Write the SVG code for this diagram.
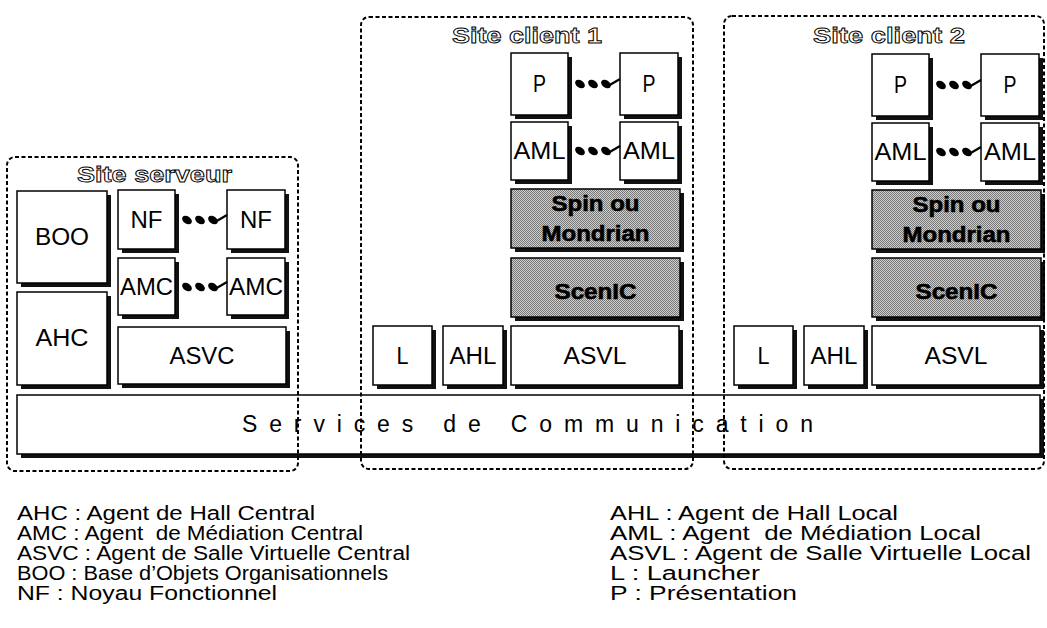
<svg xmlns="http://www.w3.org/2000/svg" width="1047" height="628" viewBox="0 0 1047 628">
<style>
.box{fill:#fff;stroke:#000;stroke-width:1.5}
.gray{fill:url(#dither);stroke:#000;stroke-width:1.5}
.sh{fill:#111}
.site{fill:none;stroke:#000;stroke-width:2;stroke-dasharray:4 2.5}
.n{font-family:"Liberation Sans",Arial,sans-serif;font-size:23px;text-anchor:middle;fill:#000}
.b{font-family:"Liberation Sans",Arial,sans-serif;font-size:22px;font-weight:bold;text-anchor:middle;fill:#000;stroke:#000;stroke-width:0.6}
.title{font-family:"Liberation Sans",Arial,sans-serif;font-size:22px;font-weight:bold;text-anchor:middle;fill:#fff;stroke:#000;stroke-width:0.9}
.comm{font-family:"Liberation Sans",Arial,sans-serif;font-size:23px;fill:#000}
.leg{font-family:"Liberation Sans",Arial,sans-serif;font-size:20px;fill:#000}
.dot{fill:#000}
</style>
<defs>
<pattern id="dither" width="2" height="2" patternUnits="userSpaceOnUse">
<rect width="2" height="2" fill="#cfcfcf"/>
<rect x="0" y="0" width="1" height="1" fill="#777"/>
<rect x="1" y="1" width="1" height="1" fill="#777"/>
</pattern>
<g id="dd">
<ellipse class="dot" cx="12" cy="0" rx="5.4" ry="3.6" transform="rotate(35 12 0)"/>
<ellipse class="dot" cx="25" cy="0" rx="5.4" ry="3.6" transform="rotate(35 25 0)"/>
<ellipse class="dot" cx="38" cy="0" rx="5.4" ry="3.6" transform="rotate(35 38 0)"/>
<path d="M40 2 L52 -5" stroke="#000" stroke-width="2.2" fill="none"/>
</g>
</defs>
<rect width="1047" height="628" fill="#fff"/>

<!-- Communication layer -->
<g id="comm">
<rect class="sh" x="21" y="399" width="1023" height="59"/>
<rect class="box" x="17" y="395" width="1023" height="59"/>
<text class="comm" x="242" y="432" textLength="571" lengthAdjust="spacing">Services de Communication</text>
</g>

<!-- Server site nodes -->
<g id="BOO"><rect class="sh" x="21" y="195" width="90" height="92"/><rect class="box" x="17" y="191" width="90" height="92"/><text class="n" x="62" y="245" textLength="54" lengthAdjust="spacingAndGlyphs">BOO</text></g>
<g id="AHC"><rect class="sh" x="21" y="296" width="90" height="93"/><rect class="box" x="17" y="292" width="90" height="93"/><text class="n" x="62" y="346" textLength="53" lengthAdjust="spacingAndGlyphs">AHC</text></g>
<g id="NF1"><rect class="sh" x="122" y="194" width="57" height="59"/><rect class="box" x="118" y="190" width="57" height="59"/><text class="n" x="146.5" y="228" textLength="32" lengthAdjust="spacingAndGlyphs">NF</text></g>
<g id="NF2"><rect class="sh" x="231" y="194" width="58" height="59"/><rect class="box" x="227" y="190" width="58" height="59"/><text class="n" x="256" y="228" textLength="32" lengthAdjust="spacingAndGlyphs">NF</text></g>
<g id="AMC1"><rect class="sh" x="122" y="262" width="57" height="57"/><rect class="box" x="118" y="258" width="57" height="57"/><text class="n" x="146.5" y="295" textLength="53" lengthAdjust="spacingAndGlyphs">AMC</text></g>
<g id="AMC2"><rect class="sh" x="231" y="262" width="58" height="57"/><rect class="box" x="227" y="258" width="58" height="57"/><text class="n" x="256" y="295" textLength="54" lengthAdjust="spacingAndGlyphs">AMC</text></g>
<g id="ASVC"><rect class="sh" x="122" y="331" width="168" height="57"/><rect class="box" x="118" y="327" width="168" height="57"/><text class="n" x="202" y="364" textLength="65" lengthAdjust="spacingAndGlyphs">ASVC</text></g>

<!-- Client site 1 nodes -->
<g id="P1a"><rect class="sh" x="515" y="57" width="57" height="62"/><rect class="box" x="511" y="53" width="57" height="62"/><text class="n" x="539.5" y="92" textLength="13" lengthAdjust="spacingAndGlyphs">P</text></g>
<g id="P1b"><rect class="sh" x="624" y="57" width="58" height="62"/><rect class="box" x="620" y="53" width="58" height="62"/><text class="n" x="649" y="92" textLength="13" lengthAdjust="spacingAndGlyphs">P</text></g>
<g id="AML1a"><rect class="sh" x="515" y="126" width="57" height="58"/><rect class="box" x="511" y="122" width="57" height="58"/><text class="n" x="539.5" y="159" textLength="52" lengthAdjust="spacingAndGlyphs">AML</text></g>
<g id="AML1b"><rect class="sh" x="624" y="126" width="58" height="58"/><rect class="box" x="620" y="122" width="58" height="58"/><text class="n" x="649" y="159" textLength="52" lengthAdjust="spacingAndGlyphs">AML</text></g>
<g id="Spin1"><rect class="sh" x="515" y="193" width="169" height="59"/><rect class="gray" x="511" y="189" width="169" height="59"/><text class="b" x="595.5" y="211" textLength="88" lengthAdjust="spacingAndGlyphs">Spin ou</text><text class="b" x="595.5" y="241" textLength="108" lengthAdjust="spacingAndGlyphs">Mondrian</text></g>
<g id="ScenIC1"><rect class="sh" x="515" y="262" width="169" height="59"/><rect class="gray" x="511" y="258" width="169" height="59"/><text class="b" x="595.5" y="299" textLength="82" lengthAdjust="spacingAndGlyphs">ScenIC</text></g>
<g id="L1"><rect class="sh" x="377" y="330" width="59" height="59"/><rect class="box" x="373" y="326" width="59" height="59"/><text class="n" x="402.5" y="364" textLength="12" lengthAdjust="spacingAndGlyphs">L</text></g>
<g id="AHL1"><rect class="sh" x="447" y="330" width="60" height="59"/><rect class="box" x="443" y="326" width="60" height="59"/><text class="n" x="473" y="364" textLength="47" lengthAdjust="spacingAndGlyphs">AHL</text></g>
<g id="ASVL1"><rect class="sh" x="515" y="330" width="168" height="59"/><rect class="box" x="511" y="326" width="168" height="59"/><text class="n" x="595" y="364" textLength="63" lengthAdjust="spacingAndGlyphs">ASVL</text></g>

<!-- Client site 2 nodes -->
<g id="P2a"><rect class="sh" x="876" y="58" width="57" height="62"/><rect class="box" x="872" y="54" width="57" height="62"/><text class="n" x="900.5" y="93" textLength="13" lengthAdjust="spacingAndGlyphs">P</text></g>
<g id="P2b"><rect class="sh" x="985" y="58" width="58" height="62"/><rect class="box" x="981" y="54" width="58" height="62"/><text class="n" x="1010" y="93" textLength="13" lengthAdjust="spacingAndGlyphs">P</text></g>
<g id="AML2a"><rect class="sh" x="876" y="127" width="57" height="58"/><rect class="box" x="872" y="123" width="57" height="58"/><text class="n" x="900.5" y="160" textLength="52" lengthAdjust="spacingAndGlyphs">AML</text></g>
<g id="AML2b"><rect class="sh" x="985" y="127" width="58" height="58"/><rect class="box" x="981" y="123" width="58" height="58"/><text class="n" x="1010" y="160" textLength="52" lengthAdjust="spacingAndGlyphs">AML</text></g>
<g id="Spin2"><rect class="sh" x="876" y="194" width="169" height="59"/><rect class="gray" x="872" y="190" width="169" height="59"/><text class="b" x="956.5" y="212" textLength="88" lengthAdjust="spacingAndGlyphs">Spin ou</text><text class="b" x="956.5" y="242" textLength="108" lengthAdjust="spacingAndGlyphs">Mondrian</text></g>
<g id="ScenIC2"><rect class="sh" x="876" y="262" width="169" height="59"/><rect class="gray" x="872" y="258" width="169" height="59"/><text class="b" x="956.5" y="299" textLength="82" lengthAdjust="spacingAndGlyphs">ScenIC</text></g>
<g id="L2"><rect class="sh" x="738" y="330" width="59" height="59"/><rect class="box" x="734" y="326" width="59" height="59"/><text class="n" x="763.5" y="364" textLength="12" lengthAdjust="spacingAndGlyphs">L</text></g>
<g id="AHL2"><rect class="sh" x="808" y="330" width="60" height="59"/><rect class="box" x="804" y="326" width="60" height="59"/><text class="n" x="834" y="364" textLength="47" lengthAdjust="spacingAndGlyphs">AHL</text></g>
<g id="ASVL2"><rect class="sh" x="876" y="330" width="168" height="59"/><rect class="box" x="872" y="326" width="168" height="59"/><text class="n" x="956" y="364" textLength="63" lengthAdjust="spacingAndGlyphs">ASVL</text></g>

<!-- Connectors (ellipsis dots) -->
<g id="connectors">
<use href="#dd" x="175" y="220"/>
<use href="#dd" x="175" y="287"/>
<use href="#dd" x="568" y="84"/>
<use href="#dd" x="568" y="151"/>
<use href="#dd" x="929" y="85"/>
<use href="#dd" x="929" y="152"/>
</g>

<!-- Site boundaries -->
<g id="site-serveur">
<rect class="site" x="7" y="157" width="291" height="314" rx="8"/>
<text class="title" x="154.5" y="182" textLength="155" lengthAdjust="spacingAndGlyphs">Site serveur</text>
</g>
<g id="site-client-1">
<rect class="site" x="361" y="17" width="332" height="452" rx="8"/>
<text class="title" x="527" y="43" textLength="150" lengthAdjust="spacingAndGlyphs">Site client 1</text>
</g>
<g id="site-client-2">
<rect class="site" x="724" y="16" width="320" height="453" rx="8"/>
<text class="title" x="889" y="43" textLength="152" lengthAdjust="spacingAndGlyphs">Site client 2</text>
</g>

<!-- Legend -->
<g id="legend">
<text class="leg" x="17" y="520" textLength="298" lengthAdjust="spacingAndGlyphs">AHC : Agent de Hall Central</text>
<text class="leg" x="17" y="540" textLength="346" lengthAdjust="spacingAndGlyphs" xml:space="preserve">AMC : Agent  de Médiation Central</text>
<text class="leg" x="17" y="560" textLength="393" lengthAdjust="spacingAndGlyphs">ASVC : Agent de Salle Virtuelle Central</text>
<text class="leg" x="17" y="580" textLength="371" lengthAdjust="spacingAndGlyphs">BOO : Base d’Objets Organisationnels</text>
<text class="leg" x="17" y="600" textLength="260" lengthAdjust="spacingAndGlyphs">NF : Noyau Fonctionnel</text>
<text class="leg" x="610" y="520" textLength="288" lengthAdjust="spacingAndGlyphs">AHL : Agent de Hall Local</text>
<text class="leg" x="610" y="540" textLength="371" lengthAdjust="spacingAndGlyphs" xml:space="preserve">AML : Agent  de Médiation Local</text>
<text class="leg" x="610" y="560" textLength="421" lengthAdjust="spacingAndGlyphs">ASVL : Agent de Salle Virtuelle Local</text>
<text class="leg" x="610" y="580" textLength="150" lengthAdjust="spacingAndGlyphs">L : Launcher</text>
<text class="leg" x="610" y="600" textLength="187" lengthAdjust="spacingAndGlyphs">P : Présentation</text>
</g>
</svg>
